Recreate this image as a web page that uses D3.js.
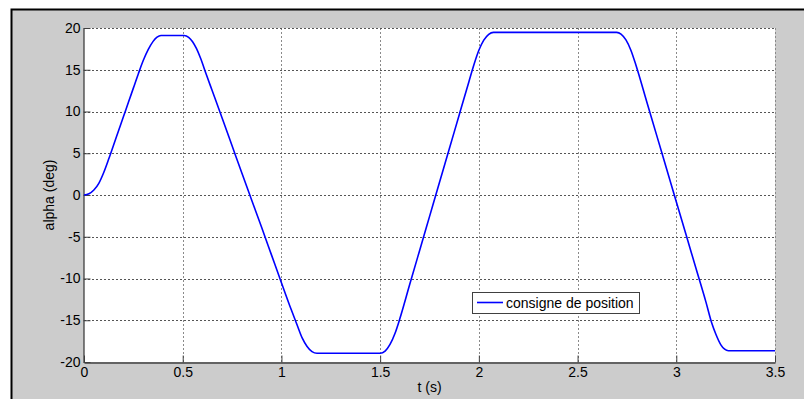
<!DOCTYPE html>
<html><head><meta charset="utf-8">
<script src="https://cdn.jsdelivr.net/npm/d3@7"></script>
<style>
html,body{margin:0;padding:0;background:#fff;}
svg{display:block;}
text{font-family:"Liberation Sans",Arial,Helvetica,sans-serif;}
</style></head>
<body>
<svg id="chart" width="804" height="399"></svg>
<script>
// Data
const timeS = [0,0.025,0.05,0.075,0.1,0.125,0.15,0.175,0.2,0.225,0.25,0.275,0.3,0.325,0.35,0.37,0.39,0.5,
  0.507,0.53,0.55,0.57,0.59,0.62,0.65,0.7,0.75,0.8,0.85,0.9,0.95,1.0,1.05,1.08,1.105,1.13,1.155,1.18,1.5,
  1.525,1.55,1.575,1.6,1.65,1.7,1.75,1.8,1.85,1.9,1.95,1.975,2.0,2.025,2.05,2.074,2.698,
  2.72,2.745,2.77,2.795,2.85,2.9,2.95,3.0,3.05,3.1,3.15,3.18,3.2,3.225,3.245,3.264,3.5];
const alphaDeg = [0,0.15,0.6,1.4,2.7,4.3,6.0,7.7,9.4,11.1,12.8,14.5,16.1,17.4,18.4,18.9,19.1,19.1,
  19.1,18.89,18.36,17.52,16.4,14.4,12.45,9.2,5.9,2.6,-0.65,-3.9,-7.2,-10.5,-13.75,-15.6,-17.12,-18.14,-18.76,-18.96,-18.96,
  -18.7,-17.9,-16.59,-14.8,-10.7,-6.64,-2.59,1.46,5.5,9.56,13.6,15.6,17.33,18.54,19.25,19.48,19.48,
  19.28,18.57,17.34,15.6,11.2,7.2,3.2,-0.8,-4.8,-8.8,-12.8,-15.37,-16.65,-17.91,-18.47,-18.65,-18.65];
const xTicks = [0,0.5,1,1.5,2,2.5,3,3.5];
const yTicks = [-20,-15,-10,-5,0,5,10,15,20];
const legendLabel = "consigne de position";
const xLabel = "t (s)";
const yLabel = "alpha (deg)";

const svg = d3.select("#chart");
const W = 804, H = 399;
const plot = {left:84, top:28, right:775, bottom:362};
const FS = "14px";

// figure background with border on top/left
svg.append("rect").attr("x",11).attr("y",9).attr("width",W-11).attr("height",H-9).attr("fill","#cccccc");
svg.append("path").attr("d",`M11.5,${H} L11.5,9.5 L${W},9.5`).attr("fill","none").attr("stroke","#000").attr("stroke-width",2);

const x = d3.scaleLinear().domain([0,3.5]).range([plot.left, plot.right]);
const y = d3.scaleLinear().domain([-20,20]).range([plot.bottom, plot.top]);

svg.append("rect").attr("x",plot.left).attr("y",plot.top)
  .attr("width",plot.right-plot.left).attr("height",plot.bottom-plot.top).attr("fill","#fff");

// grid
const g = svg.append("g");
g.selectAll(".gx").data(xTicks.filter(d=>d>0)).join("line")
  .attr("x1",d=>Math.round(x(d))+0.5).attr("x2",d=>Math.round(x(d))+0.5)
  .attr("y1",plot.top).attr("y2",plot.bottom)
  .attr("stroke","#8a8a8a").attr("stroke-dasharray","2,2").attr("stroke-width",1);
g.selectAll(".gy").data(yTicks.filter(d=>d>-20)).join("line")
  .attr("y1",d=>Math.round(y(d))+0.5).attr("y2",d=>Math.round(y(d))+0.5)
  .attr("x1",plot.left).attr("x2",plot.right)
  .attr("stroke","#555").attr("stroke-dasharray","2,2").attr("stroke-width",1);

// axes
const xAxis = d3.axisBottom(x).tickValues(xTicks).tickFormat(d=>String(d)).tickSizeInner(-7).tickSizeOuter(0).tickPadding(10);
const yAxis = d3.axisLeft(y).tickValues(yTicks).tickFormat(d=>String(d)).tickSizeInner(-7).tickSizeOuter(0).tickPadding(10);
const gx = svg.append("g").attr("transform",`translate(0,${plot.bottom+0.5})`).call(xAxis);
const gy = svg.append("g").attr("transform",`translate(${plot.left-0.5},0)`).call(yAxis);
[gx,gy].forEach(a=>{
  a.select(".domain").attr("stroke","#404040").attr("stroke-width",1.3);
  a.selectAll(".tick line").attr("stroke","#404040");
  a.selectAll("text").attr("fill","#000").style("font-size",FS).style("font-family",'"Liberation Sans",Arial,sans-serif');
});
gy.selectAll("text").attr("x",-3);
gx.selectAll("text").attr("y",5);

// curve
const data = timeS.map((t,i)=>({t, v:alphaDeg[i]}));
const line = d3.line().x(d=>x(d.t)).y(d=>y(d.v)).curve(d3.curveMonotoneX);
svg.append("path").datum(data).attr("d",line).attr("fill","none")
  .attr("stroke","#0000ff").attr("stroke-width",1.6).attr("stroke-linejoin","round");

// labels
svg.append("text").attr("x",(plot.left+plot.right)/2).attr("y",392).attr("text-anchor","middle")
  .style("font-size",FS).text(xLabel);
svg.append("text").attr("transform",`translate(54,195) rotate(-90)`).attr("text-anchor","middle")
  .style("font-size",FS).text(yLabel);

// legend
const lg = svg.append("g");
lg.append("rect").attr("x",472.5).attr("y",292.5).attr("width",167).attr("height",21)
  .attr("fill","#fff").attr("stroke","#404040").attr("stroke-width",1);
lg.append("line").attr("x1",477).attr("x2",503).attr("y1",302.5).attr("y2",302.5)
  .attr("stroke","#0000ff").attr("stroke-width",1.6);
lg.append("text").attr("x",506).attr("y",307.5).style("font-size",FS).text(legendLabel);
</script>
</body></html>
